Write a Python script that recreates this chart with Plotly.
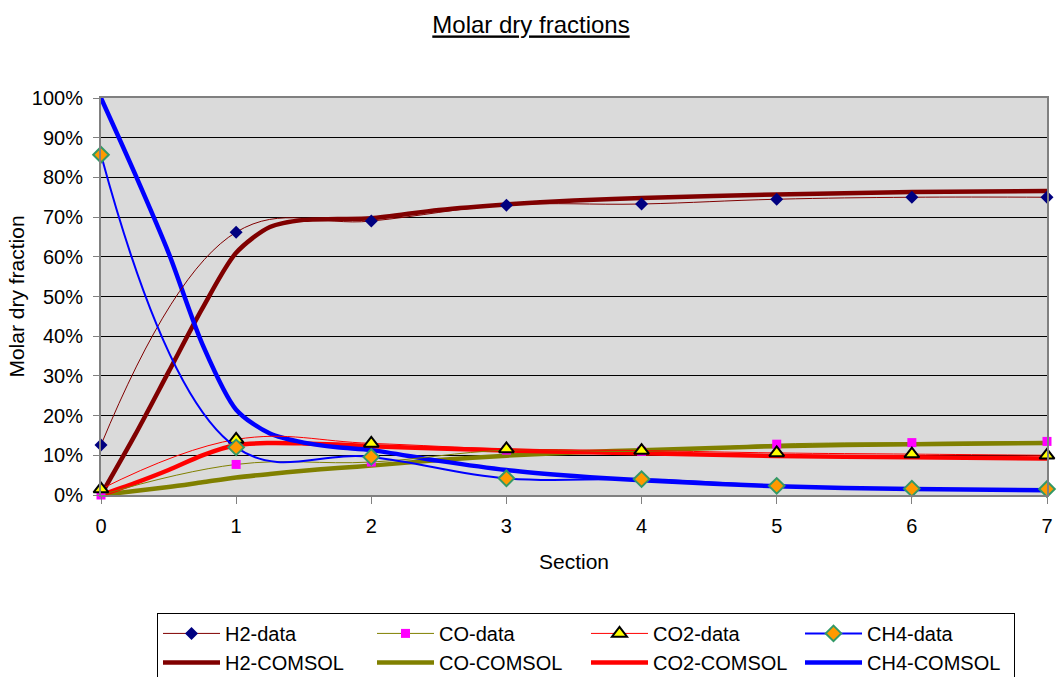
import plotly.graph_objects as go

sections = [0, 1, 2, 3, 4, 5, 6, 7]
h2_data = [12.6, 66.2, 69.0, 73.0, 73.3, 74.5, 75.0, 75.0]
co_data = [0.0, 7.7, 8.3, 11.3, 11.0, 12.8, 13.2, 13.5]
co2_data = [1.5, 14.0, 13.0, 11.6, 11.2, 10.6, 10.3, 10.0]
ch4_data = [85.7, 12.0, 9.6, 4.2, 4.0, 2.3, 1.6, 1.5]

comsol_x = [0, 0.25, 0.5, 0.75, 1, 1.25, 1.5, 1.75, 2, 2.5, 3, 3.5, 4, 5, 6, 7]
h2_comsol = [0, 15, 31, 47, 61, 67.5, 69.3, 69.5, 69.7, 71.8, 73.2, 74.2, 74.8, 75.7, 76.3, 76.6]
co_comsol = [0, 1.0, 2.0, 3.2, 4.4, 5.3, 6.1, 6.8, 7.4, 8.8, 9.9, 10.7, 11.3, 12.3, 12.8, 13.1]
co2_comsol = [0, 3.0, 6.3, 10.0, 12.6, 13.1, 13.0, 12.7, 12.3, 11.7, 11.2, 10.8, 10.5, 9.8, 9.5, 9.2]
ch4_comsol = [100, 81, 61, 38, 21.5, 15.5, 13.2, 12.0, 11.3, 8.6, 6.3, 4.8, 3.7, 2.2, 1.5, 1.2]

FONT = "Liberation Sans, Arial, sans-serif"

def pct(v):
    return [x / 100 for x in v]

fig = go.Figure()

comsol = [
    ("H2-COMSOL", h2_comsol, "#800000", 5),
    ("CO-COMSOL", co_comsol, "#808000", 6),
    ("CO2-COMSOL", co2_comsol, "#FF0000", 7),
    ("CH4-COMSOL", ch4_comsol, "#0000FF", 8),
]
for name, vals, col, rank in comsol:
    fig.add_trace(go.Scatter(
        x=comsol_x, y=pct(vals), name=name, mode="lines",
        line=dict(color=col, width=4.5, shape="spline", smoothing=0.8),
        legendrank=rank, cliponaxis=False,
    ))

data = [
    ("H2-data", h2_data, "#800000",
     dict(symbol="diamond", size=10, color="#000080", line=dict(width=0)), 1),
    ("CO-data", co_data, "#808000",
     dict(symbol="square", size=9, color="#FF00FF", line=dict(width=0)), 2),
    ("CO2-data", co2_data, "#FF0000",
     dict(symbol="triangle-up", size=13, color="#FFFF00", line=dict(color="#000000", width=2)), 3),
    ("CH4-data", ch4_data, "#0000FF",
     dict(symbol="diamond", size=12, color="#FF9900", line=dict(color="#339966", width=2)), 4),
]
for name, vals, col, marker, rank in data:
    fig.add_trace(go.Scatter(
        x=sections, y=pct(vals), name=name, mode="lines+markers",
        line=dict(color=col, width=1 if name != "CH4-data" else 2, shape="spline", smoothing=1.15),
        marker=marker, legendrank=rank, cliponaxis=False,
    ))

fig.update_layout(
    width=1062, height=677,
    margin=dict(l=101, r=15, t=98, b=182, autoexpand=False),
    paper_bgcolor="white",
    plot_bgcolor="#dadada",
    font=dict(family=FONT, size=20, color="black"),
    title=dict(text="<u>Molar dry fractions</u>", x=0.5, xanchor="center",
               y=0.963, yanchor="middle", font=dict(family=FONT, size=24)),
    xaxis=dict(
        range=[0, 7], tickmode="array", tickvals=sections,
        ticktext=[str(s) for s in sections],
        showgrid=False, zeroline=False,
        showline=True, linecolor="#808080", linewidth=2, mirror=True,
        ticks="outside", ticklen=7, tickcolor="#808080", tickwidth=1,
        ticklabelstandoff=5,
        title=dict(text="Section", font=dict(family=FONT, size=21), standoff=18),
    ),
    yaxis=dict(
        range=[0, 1], dtick=0.1, tickformat=".0%",
        showgrid=True, gridcolor="black", gridwidth=1, zeroline=False,
        showline=True, linecolor="#808080", linewidth=2, mirror=True,
        ticks="outside", ticklen=6, tickcolor="#808080", tickwidth=1,
        ticklabelstandoff=6,
        title=dict(text="Molar dry fraction", font=dict(family=FONT, size=21), standoff=1),
    ),
    legend=dict(
        orientation="h", x=0.0592, xanchor="left", y=-0.297, yanchor="top",
        bordercolor="black", borderwidth=1, bgcolor="white",
        entrywidth=142, entrywidthmode="pixels",
        font=dict(family=FONT, size=20), traceorder="normal",
        itemwidth=57, tracegroupgap=0,
    ),
    showlegend=True,
)

fig.write_html("out.html")
